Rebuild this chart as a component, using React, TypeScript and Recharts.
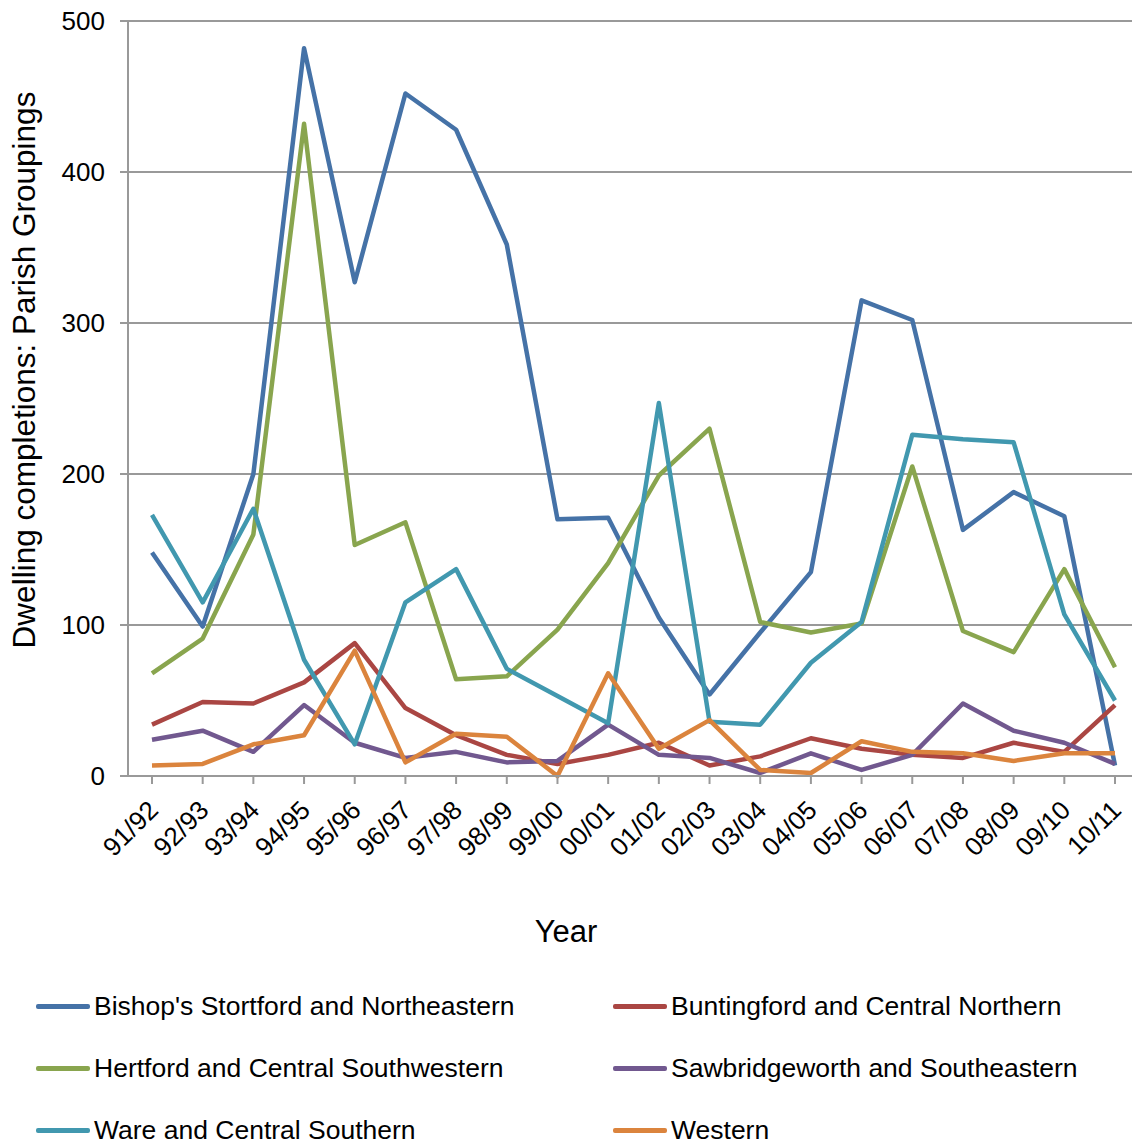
import React from 'react';
import { LineChart, Line, XAxis, YAxis, CartesianGrid, Legend } from 'recharts';

const years = ['91/92','92/93','93/94','94/95','95/96','96/97','97/98','98/99','99/00','00/01','01/02','02/03','03/04','04/05','05/06','06/07','07/08','08/09','09/10','10/11'];
const bishops = [148, 99, 200, 482, 327, 452, 428, 352, 170, 171, 105, 54, 95, 135, 315, 302, 163, 188, 172, 7];
const buntingford = [34, 49, 48, 62, 88, 45, 27, 14, 8, 14, 22, 7, 13, 25, 18, 14, 12, 22, 16, 47];
const hertford = [68, 91, 160, 432, 153, 168, 64, 66, 97, 141, 199, 230, 102, 95, 101, 205, 96, 82, 137, 72];
const sawbridgeworth = [24, 30, 16, 47, 22, 12, 16, 9, 10, 34, 14, 12, 2, 15, 4, 14, 48, 30, 22, 8];
const ware = [173, 115, 177, 77, 21, 115, 137, 71, 53, 35, 247, 36, 34, 75, 102, 226, 223, 221, 107, 50];
const western = [7, 8, 21, 27, 83, 9, 28, 26, 0, 68, 18, 37, 4, 2, 23, 16, 15, 10, 15, 15];
const yTicks = [0, 100, 200, 300, 400, 500];

const seriesDefs = [
  { key: 'bishops', name: "Bishop's Stortford and Northeastern", color: '#4572A7', values: bishops },
  { key: 'buntingford', name: 'Buntingford and Central Northern', color: '#AA4643', values: buntingford },
  { key: 'hertford', name: 'Hertford and Central Southwestern', color: '#89A54E', values: hertford },
  { key: 'sawbridgeworth', name: 'Sawbridgeworth and Southeastern', color: '#71588F', values: sawbridgeworth },
  { key: 'ware', name: 'Ware and Central Southern', color: '#4198AF', values: ware },
  { key: 'western', name: 'Western', color: '#DB843D', values: western },
];

const data = years.map((y, i) => {
  const row: any = { year: y };
  seriesDefs.forEach((s) => { row[s.key] = s.values[i]; });
  return row;
});

const FONT = '"Liberation Sans", Arial, sans-serif';
const GRID = '#999999';

const XTick = (props: any) => {
  const { x, y, payload } = props;
  return (
    <g transform={`translate(${x + 2},${y + 20})`}>
      <text textAnchor="end" transform="rotate(-45)" fontSize={26} fill="#000" fontFamily={FONT} dy={8}>
        {payload.value}
      </text>
    </g>
  );
};

const YLabel = () => {
  const cx = 34.5;
  const cy = 370;
  return (
    <text x={cx} y={cy} transform={`rotate(-90, ${cx}, ${cy})`} textAnchor="middle" fontSize={31.5} fill="#000" fontFamily={FONT}>
      Dwelling completions: Parish Groupings
    </text>
  );
};

const XLabel = () => {
  return (
    <text x={566} y={942} textAnchor="middle" fontSize={31} fill="#000" fontFamily={FONT}>
      Year
    </text>
  );
};

const renderLegend = (props: any) => {
  const payload = props.payload || [];
  return (
    <div style={{ position: 'relative', width: 1132, height: 160, fontFamily: FONT }}>
      {payload.map((p: any, i: number) => {
        const col = i % 2;
        const row = Math.floor(i / 2);
        const swatchLeft = col === 0 ? 28 : 605;
        const textLeft = col === 0 ? 86 : 663;
        const cy = 23 + row * 62;
        return (
          <React.Fragment key={i}>
            <div style={{ position: 'absolute', left: swatchLeft, top: cy - 2.5, width: 54, height: 5, background: p.color, borderRadius: 2 }} />
            <div style={{ position: 'absolute', left: textLeft, top: cy - 16, fontSize: 26.5, lineHeight: '32px', color: '#000', whiteSpace: 'nowrap' }}>
              {p.value}
            </div>
          </React.Fragment>
        );
      })}
    </div>
  );
};

export default function App() {
  return (
    <div style={{ width: 1140, height: 1144, margin: '-8px 0 0 -8px', fontFamily: FONT, overflow: 'hidden' }}>
      <LineChart width={1140} height={1144} data={data} margin={{ top: 21, right: 0, left: 8, bottom: 8 }}>
        <CartesianGrid vertical={false} stroke={GRID} strokeWidth={2} />
        <XAxis
          dataKey="year"
          padding={{ left: 24, right: 25 }}
          height={200}
          interval={0}
          tick={<XTick />}
          tickSize={8}
          axisLine={{ stroke: GRID, strokeWidth: 2 }}
          tickLine={{ stroke: GRID, strokeWidth: 2 }}
          label={<XLabel />}
        />
        <YAxis
          width={120}
          domain={[0, 500]}
          ticks={yTicks}
          interval={0}
          tick={{ fontSize: 26, fill: '#000', fontFamily: FONT }}
          tickSize={8}
          tickMargin={15}
          axisLine={{ stroke: GRID, strokeWidth: 2 }}
          tickLine={{ stroke: GRID, strokeWidth: 2 }}
          label={<YLabel />}
        />
        <Legend
          verticalAlign="bottom"
          content={renderLegend}
          wrapperStyle={{ position: 'absolute', left: 8, top: 983, width: 1132, height: 160 }}
        />
        {seriesDefs.map((s) => (
          <Line
            key={s.key}
            type="linear"
            dataKey={s.key}
            name={s.name}
            stroke={s.color}
            strokeWidth={4.5}
            dot={false}
            activeDot={false}
            strokeLinejoin="round"
            isAnimationActive={false}
          />
        ))}
      </LineChart>
    </div>
  );
}
